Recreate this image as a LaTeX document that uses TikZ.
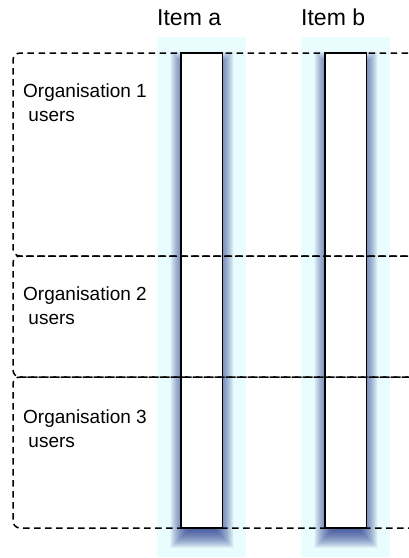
\documentclass[tikz,border=0pt]{standalone}
\usepackage{fontspec}
\setmainfont{Liberation Sans}
\definecolor{cyanbg}{RGB}{234,253,254}
\definecolor{shadowc}{RGB}{30,48,140}
\tikzset{
  colbg/.style={fill=cyanbg, draw=none},
  barbox/.style={draw=black, line width=1.6pt, fill=white, minimum width=41.5pt, minimum height=475pt, inner sep=0pt},
  orgbox/.style={draw=black, line width=1.5pt, dash pattern=on 6.5pt off 4.5pt, rounded corners=7pt},
  itemlabel/.style={font=\fontsize{23}{27}\selectfont, anchor=base west, inner sep=0pt},
  orglabel/.style={font=\fontsize{19}{24}\selectfont, anchor=base west, inner sep=0pt, align=left},
  shadowlayer/.style={fill=shadowc, opacity=0.03, draw=none},
}
\begin{document}
\begin{tikzpicture}[x=1pt,y=-1pt]
\useasboundingbox (0,0) rectangle (409,558);
% column backgrounds
\fill[colbg] (157,37) rectangle (246,557);
\fill[colbg] (301,37) rectangle (390,557);
% shadows
\foreach \bx in {181,325}{
  \foreach \e in {-8,-7.5,...,11}{
    \fill[shadowlayer] (\bx-\e,53+9-\e) rectangle (\bx+41.5+\e,528+9+\e);
  }
}
% bars
\node[barbox] (bara) at (201.75,290.5) {};
\node[barbox] (barb) at (345.75,290.5) {};
% organisation boxes
\begin{scope}
\clip (0,0) rectangle (409,558);
\draw[orgbox] (430,53) -- (13,53) -- (13,256) -- (430,256);
\draw[orgbox] (430,256) -- (13,256) -- (13,377) -- (430,377);
\draw[orgbox] (430,377) -- (13,377) -- (13,528) -- (430,528);
\end{scope}
% labels
\node[itemlabel] (itema) at (157,25) {Item a};
\node[itemlabel] (itemb) at (301,25) {Item b};
\node[orglabel] (org1) at (23,121) {Organisation 1\\\hspace*{0.278em}users};
\node[orglabel] (org2) at (23,324.5) {Organisation 2\\\hspace*{0.278em}users};
\node[orglabel] (org3) at (23,447) {Organisation 3\\\hspace*{0.278em}users};
\end{tikzpicture}
\end{document}
